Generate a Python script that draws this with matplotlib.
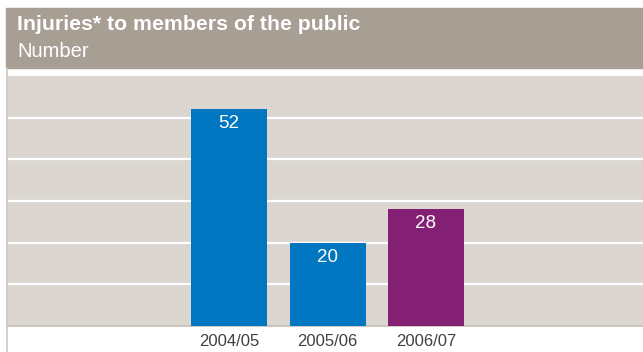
import matplotlib.pyplot as plt
from matplotlib.patches import Rectangle
from matplotlib.lines import Line2D

plt.rcParams['font.family'] = ['Liberation Sans', 'DejaVu Sans']

years = ['2004/05', '2005/06', '2006/07']
injuries = [52, 20, 28]
bar_colors = ['#0077c0', '#0077c0', '#842074']

title = 'Injuries* to members of the public'
subtitle = 'Number'

W, H = 643, 352
fig = plt.figure(figsize=(W / 100, H / 100), dpi=100)


def fx(px):
    return px / W


def fy(py):
    return 1 - py / H


# header band
fig.patches.append(Rectangle((fx(6), fy(68)), fx(W) - fx(6), fy(8) - fy(68),
                             transform=fig.transFigure, color='#a79e94', zorder=0))
fig.text(fx(17), fy(30), title, color='white', fontsize=15.3, fontweight='bold', va='baseline')
fig.text(fx(17), fy(57), subtitle, color='white', fontsize=14.5, va='baseline')

# thin rule down the left edge
fig.lines.append(Line2D([fx(6.5), fx(6.5)], [0, fy(68)], transform=fig.transFigure,
                        color='#cdc7c0', lw=1.2))

ax = fig.add_axes([fx(7), fy(326), fx(W) - fx(7), fy(76) - fy(326)])
ax.set_facecolor('#dbd6d0')

step = 98.5
x = list(range(len(years)))
ax.bar(x, injuries, width=76 / step, color=bar_colors, zorder=3)
ax.set_xlim(-(229 - 7) / step, 2 + (643 - 426) / step)
ax.set_ylim(0, 60)

for yv in range(10, 60, 10):
    ax.axhline(yv, color='white', lw=1.6, zorder=2)

for xi, v in zip(x, injuries):
    ax.annotate(str(v), (xi, v), xytext=(0, -6), textcoords='offset pixels',
                ha='center', va='top', color='white', fontsize=13.5, zorder=4)

for s in ['top', 'right', 'left']:
    ax.spines[s].set_visible(False)
ax.spines['bottom'].set_color('#c5bdb3')
ax.spines['bottom'].set_linewidth(1.2)
ax.set_yticks([])
ax.set_xticks(x)
ax.set_xticklabels(years, color='#404040', fontsize=12)
ax.tick_params(axis='x', length=0, pad=6)

fig.savefig('out.png', dpi=100)
